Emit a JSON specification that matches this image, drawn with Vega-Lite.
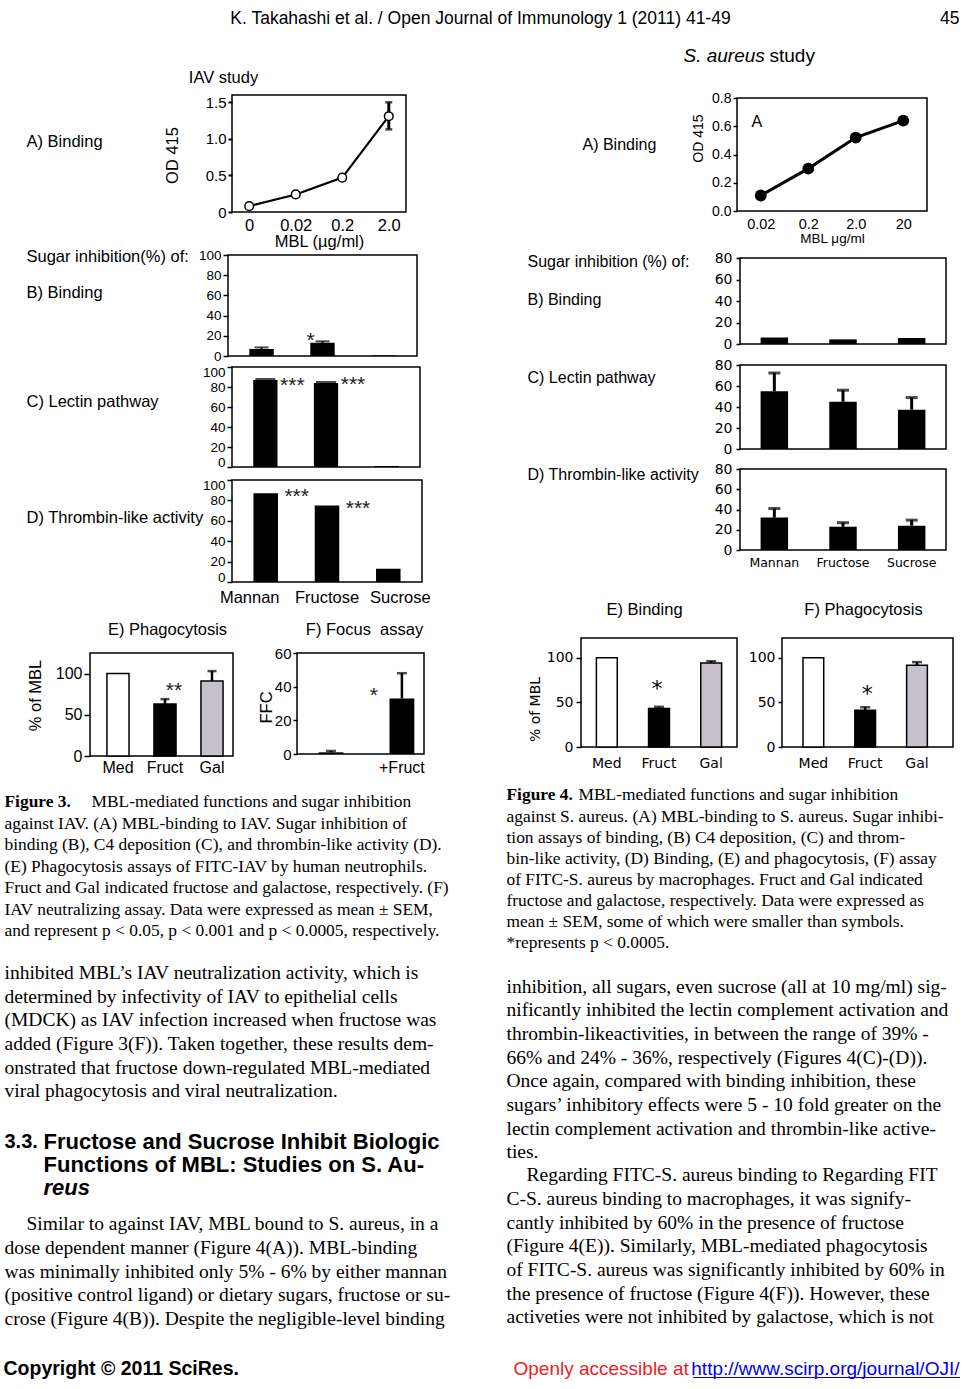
{
"$schema":"https://vega.github.io/schema/vega-lite/v6.json",
"padding":0,
"background":"white",
"bounds":"flush",
"config":{
 "view":{"stroke":null},
 "concat":{"spacing":0},
 "font":"Liberation Sans",
 "axis":{"domain":false,"grid":false,"tickColor":"black","tickWidth":1.5,"tickSize":5,"labelColor":"black","labelFont":"Liberation Sans","titleColor":"black","titleFont":"Liberation Sans","titleFontWeight":"normal","labelPadding":2,"labelOverlap":false}
},
"hconcat":[
{"bounds":"flush","hconcat":[{"width":480,"height":1,"data":{"values":[]},"mark":"point"},{"bounds":"flush","vconcat":[{"width":1,"height":18,"data":{"values":[]},"mark":"point"},
 {"width":1,"height":2,"data":{"values":[{"t":"K. Takahashi et al. / Open Journal of Immunology 1 (2011) 41-49"}]},"mark":{"type":"text","align":"center","baseline":"middle","font":"Liberation Sans","fontSize":17.5},"encoding":{"text":{"field":"t","type":"nominal"}}}]}]},
{"bounds":"flush","hconcat":[{"width":959,"height":1,"data":{"values":[]},"mark":"point"},{"bounds":"flush","vconcat":[{"width":1,"height":18,"data":{"values":[]},"mark":"point"},
 {"width":1,"height":2,"data":{"values":[{"t":"45"}]},"mark":{"type":"text","align":"right","baseline":"middle","font":"Liberation Sans","fontSize":17.5},"encoding":{"text":{"field":"t","type":"nominal"}}}]}]},

{"bounds":"flush","hconcat":[{"width":223,"height":1,"data":{"values":[]},"mark":"point"},{"bounds":"flush","vconcat":[{"width":1,"height":77,"data":{"values":[]},"mark":"point"},
 {"width":1,"height":2,"data":{"values":[{"t":"IAV study"}]},"mark":{"type":"text","align":"center","baseline":"middle","font":"Liberation Sans","fontSize":16.5},"encoding":{"text":{"field":"t","type":"nominal"}}}]}]},
{"bounds":"flush","hconcat":[{"width":26,"height":1,"data":{"values":[]},"mark":"point"},{"bounds":"flush","vconcat":[{"width":1,"height":141,"data":{"values":[]},"mark":"point"},
 {"width":1,"height":2,"data":{"values":[{"t":"A) Binding"}]},"mark":{"type":"text","align":"left","baseline":"middle","font":"Liberation Sans","fontSize":16.5},"encoding":{"text":{"field":"t","type":"nominal"}}}]}]},
{"bounds":"flush","hconcat":[{"width":26,"height":1,"data":{"values":[]},"mark":"point"},{"bounds":"flush","vconcat":[{"width":1,"height":256,"data":{"values":[]},"mark":"point"},
 {"width":1,"height":2,"data":{"values":[{"t":"Sugar inhibition(%) of:"}]},"mark":{"type":"text","align":"left","baseline":"middle","font":"Liberation Sans","fontSize":16.5},"encoding":{"text":{"field":"t","type":"nominal"}}}]}]},
{"bounds":"flush","hconcat":[{"width":26,"height":1,"data":{"values":[]},"mark":"point"},{"bounds":"flush","vconcat":[{"width":1,"height":292,"data":{"values":[]},"mark":"point"},
 {"width":1,"height":2,"data":{"values":[{"t":"B) Binding"}]},"mark":{"type":"text","align":"left","baseline":"middle","font":"Liberation Sans","fontSize":16.5},"encoding":{"text":{"field":"t","type":"nominal"}}}]}]},
{"bounds":"flush","hconcat":[{"width":26,"height":1,"data":{"values":[]},"mark":"point"},{"bounds":"flush","vconcat":[{"width":1,"height":401,"data":{"values":[]},"mark":"point"},
 {"width":1,"height":2,"data":{"values":[{"t":"C) Lectin pathway"}]},"mark":{"type":"text","align":"left","baseline":"middle","font":"Liberation Sans","fontSize":16.5},"encoding":{"text":{"field":"t","type":"nominal"}}}]}]},
{"bounds":"flush","hconcat":[{"width":26,"height":1,"data":{"values":[]},"mark":"point"},{"bounds":"flush","vconcat":[{"width":1,"height":517,"data":{"values":[]},"mark":"point"},
 {"width":1,"height":2,"data":{"values":[{"t":"D) Thrombin-like activity"}]},"mark":{"type":"text","align":"left","baseline":"middle","font":"Liberation Sans","fontSize":16.5},"encoding":{"text":{"field":"t","type":"nominal"}}}]}]},
{"bounds":"flush","hconcat":[{"width":167,"height":1,"data":{"values":[]},"mark":"point"},{"bounds":"flush","vconcat":[{"width":1,"height":629,"data":{"values":[]},"mark":"point"},
 {"width":1,"height":2,"data":{"values":[{"t":"E) Phagocytosis"}]},"mark":{"type":"text","align":"center","baseline":"middle","font":"Liberation Sans","fontSize":16.5},"encoding":{"text":{"field":"t","type":"nominal"}}}]}]},
{"bounds":"flush","hconcat":[{"width":364,"height":1,"data":{"values":[]},"mark":"point"},{"bounds":"flush","vconcat":[{"width":1,"height":629,"data":{"values":[]},"mark":"point"},
 {"width":1,"height":2,"data":{"values":[{"t":"F) Focus\u00a0 assay"}]},"mark":{"type":"text","align":"center","baseline":"middle","font":"Liberation Sans","fontSize":16.5},"encoding":{"text":{"field":"t","type":"nominal"}}}]}]},

{"bounds":"flush","hconcat":[{"width":232,"height":1,"data":{"values":[]},"mark":"point"},{"bounds":"flush","vconcat":[{"width":1,"height":95,"data":{"values":[]},"mark":"point"},
 {"width":174,"height":117,"view":{"stroke":"black","strokeWidth":1.5},
  "data":{"values":[{"mbl":"0","od":0.08},{"mbl":"0.02","od":0.24},{"mbl":"0.2","od":0.47},{"mbl":"2.0","od":1.31,"lo":1.13,"hi":1.5}]},
  "encoding":{"x":{"field":"mbl","type":"ordinal","scale":{"type":"point","padding":0.37,"domain":["0","0.02","0.2","2.0"]},"axis":{"ticks":false,"labelAngle":0,"labelFontSize":16.5,"labelPadding":5,"title":"MBL (µg/ml)","titleFontSize":16.5,"titleX":87,"titleY":29,"titleBaseline":"middle"}},
   "y":{"field":"od","type":"quantitative","scale":{"domain":[0,1.6]},"axis":{"values":[0,0.5,1,1.5],"labelExpr":"datum.value == 0 ? '0' : format(datum.value, '.1f')","labelFontSize":15,"tickSize":4,"tickWidth":2,"title":"OD 415","titleFontSize":16.5,"titleX":-60,"titleY":60,"titleAngle":-90,"titleBaseline":"middle","titleAlign":"center"}}},
  "layer":[
   {"transform":[{"filter":"isValid(datum.hi)"}],"mark":{"type":"rule","color":"black","strokeWidth":3},"encoding":{"y":{"field":"lo","type":"quantitative","scale":{"domain":[0,1.6]},"axis":{"values":[0,0.5,1,1.5],"labelExpr":"datum.value == 0 ? '0' : format(datum.value, '.1f')","labelFontSize":15,"tickSize":4,"tickWidth":2,"title":"OD 415","titleFontSize":16.5,"titleX":-60,"titleY":60,"titleAngle":-90,"titleBaseline":"middle","titleAlign":"center"}},"y2":{"field":"hi"}}},
   {"transform":[{"filter":"isValid(datum.hi)"}],"mark":{"type":"tick","color":"black","size":7,"thickness":2.5},"encoding":{"y":{"field":"hi","type":"quantitative","scale":{"domain":[0,1.6]},"axis":{"values":[0,0.5,1,1.5],"labelExpr":"datum.value == 0 ? '0' : format(datum.value, '.1f')","labelFontSize":15,"tickSize":4,"tickWidth":2,"title":"OD 415","titleFontSize":16.5,"titleX":-60,"titleY":60,"titleAngle":-90,"titleBaseline":"middle","titleAlign":"center"}}}},
   {"transform":[{"filter":"isValid(datum.lo)"}],"mark":{"type":"tick","color":"black","size":7,"thickness":2.5},"encoding":{"y":{"field":"lo","type":"quantitative","scale":{"domain":[0,1.6]},"axis":{"values":[0,0.5,1,1.5],"labelExpr":"datum.value == 0 ? '0' : format(datum.value, '.1f')","labelFontSize":15,"tickSize":4,"tickWidth":2,"title":"OD 415","titleFontSize":16.5,"titleX":-60,"titleY":60,"titleAngle":-90,"titleBaseline":"middle","titleAlign":"center"}}}},
   {"mark":{"type":"line","color":"black","strokeWidth":2.2}},
   {"mark":{"type":"point","filled":true,"fill":"white","stroke":"black","strokeWidth":1.5,"size":75,"opacity":1}}
  ]}]}]},

{"bounds":"flush","hconcat":[{"width":228,"height":1,"data":{"values":[]},"mark":"point"},{"bounds":"flush","vconcat":[{"width":1,"height":255,"data":{"values":[]},"mark":"point"},
 {"width":189,"height":101,"view":{"stroke":"black","strokeWidth":1.5},
  "data":{"values":[{"s":"Mannan","v":7,"hi":8.5},{"s":"Fructose","v":13,"hi":14.5},{"s":"Sucrose","v":0.5}]},
  "encoding":{"x":{"field":"s","type":"nominal","scale":{"domain":["Mannan","Fructose","Sucrose"],"paddingInner":0.6,"paddingOuter":0.35},"axis":null},
   "y":{"field":"v","type":"quantitative","scale":{"domain":[0,100]},"axis":{"values":[0,20,40,60,80,100],"labelFontSize":13.5,"title":null}}},
  "layer":[
   {"transform":[{"filter":"isValid(datum.hi)"}],"mark":{"type":"rule","color":"black","strokeWidth":2},"encoding":{"y2":{"field":"hi"}}},
   {"transform":[{"filter":"isValid(datum.hi)"}],"mark":{"type":"tick","color":"black","size":14,"thickness":2},"encoding":{"y":{"field":"hi","type":"quantitative","scale":{"domain":[0,100]},"axis":{"values":[0,20,40,60,80,100],"labelFontSize":13.5,"title":null}}}},
   {"mark":{"type":"bar","color":"black"}},
   {"data":{"values":[{"s":"Fructose","y":15,"t":"*"}]},"mark":{"type":"text","fontSize":21,"color":"#222222","baseline":"middle","dx":-12},"encoding":{"y":{"field":"y","type":"quantitative","scale":{"domain":[0,100]},"axis":{"values":[0,20,40,60,80,100],"labelFontSize":13.5,"title":null}},"text":{"field":"t","type":"nominal"}}}
  ]}]}]},

{"bounds":"flush","hconcat":[{"width":232,"height":1,"data":{"values":[]},"mark":"point"},{"bounds":"flush","vconcat":[{"width":1,"height":367,"data":{"values":[]},"mark":"point"},
 {"width":188,"height":100,"view":{"stroke":"black","strokeWidth":1.5},
  "data":{"values":[{"s":"Mannan","v":87,"hi":88},{"s":"Fructose","v":84,"hi":85},{"s":"Sucrose","v":1}]},
  "encoding":{"x":{"field":"s","type":"nominal","scale":{"domain":["Mannan","Fructose","Sucrose"],"paddingInner":0.6,"paddingOuter":0.35},"axis":null},
   "y":{"field":"v","type":"quantitative","scale":{"domain":[0,100]},"axis":{"values":[0,20,40,60,80,100],"labelFontSize":13.5,"labelFlush":true,"labelFlushOffset":2,"title":null}}},
  "layer":[
   {"transform":[{"filter":"isValid(datum.hi)"}],"mark":{"type":"tick","color":"black","size":20,"thickness":2},"encoding":{"y":{"field":"hi","type":"quantitative","scale":{"domain":[0,100]},"axis":{"values":[0,20,40,60,80,100],"labelFontSize":13.5,"labelFlush":true,"labelFlushOffset":2,"title":null}}}},
   {"mark":{"type":"bar","color":"black"}},
   {"data":{"values":[{"s":"Mannan","y":81.1,"t":"***"},{"s":"Fructose","y":82,"t":"***"}]},"mark":{"type":"text","fontSize":21,"color":"#222222","baseline":"middle","dx":27},"encoding":{"y":{"field":"y","type":"quantitative","scale":{"domain":[0,100]},"axis":{"values":[0,20,40,60,80,100],"labelFontSize":13.5,"labelFlush":true,"labelFlushOffset":2,"title":null}},"text":{"field":"t","type":"nominal"}}}
  ]}]}]},

{"bounds":"flush","hconcat":[{"width":232,"height":1,"data":{"values":[]},"mark":"point"},{"bounds":"flush","vconcat":[{"width":1,"height":480,"data":{"values":[]},"mark":"point"},
 {"width":190,"height":102,"view":{"stroke":"black","strokeWidth":1.5},
  "data":{"values":[{"s":"Mannan","v":87},{"s":"Fructose","v":75},{"s":"Sucrose","v":13}]},
  "encoding":{"x":{"field":"s","type":"nominal","scale":{"domain":["Mannan","Fructose","Sucrose"],"paddingInner":0.6,"paddingOuter":0.35},"axis":{"ticks":false,"labelAngle":0,"labelFontSize":16.5,"labelPadding":7,"title":null,"labelOffset":{"condition":[{"test":"datum.value == 'Mannan'","value":-16},{"test":"datum.value == 'Sucrose'","value":12}],"value":0}}},
   "y":{"field":"v","type":"quantitative","scale":{"domain":[0,100]},"axis":{"values":[0,20,40,60,80,100],"labelFontSize":13.5,"labelFlush":true,"labelFlushOffset":2,"title":null}}},
  "layer":[
   {"mark":{"type":"bar","color":"black"}},
   {"data":{"values":[{"s":"Mannan","y":83.4,"t":"***"},{"s":"Fructose","y":71.7,"t":"***"}]},"mark":{"type":"text","fontSize":21,"color":"#222222","baseline":"middle","dx":31},"encoding":{"y":{"field":"y","type":"quantitative","scale":{"domain":[0,100]},"axis":{"values":[0,20,40,60,80,100],"labelFontSize":13.5,"labelFlush":true,"labelFlushOffset":2,"title":null}},"text":{"field":"t","type":"nominal"}}}
  ]}]}]},

{"bounds":"flush","hconcat":[{"width":90,"height":1,"data":{"values":[]},"mark":"point"},{"bounds":"flush","vconcat":[{"width":1,"height":653,"data":{"values":[]},"mark":"point"},
 {"width":143,"height":103,"view":{"stroke":"black","strokeWidth":1.5},
  "data":{"values":[{"s":"Med","v":100},{"s":"Fruct","v":63,"hi":69},{"s":"Gal","v":91,"hi":103}]},
  "encoding":{"x":{"field":"s","type":"nominal","scale":{"domain":["Med","Fruct","Gal"],"paddingInner":0.53,"paddingOuter":0.286,"align":0.63},"axis":{"ticks":false,"labelAngle":0,"labelFontSize":16,"labelPadding":3,"title":null}},
   "y":{"field":"v","type":"quantitative","scale":{"domain":[0,125]},"axis":{"values":[0,50,100],"labelFontSize":16,"tickSize":6,"title":"% of MBL","titleFontSize":16.5,"titleX":-55,"titleY":42,"titleAngle":-90,"titleBaseline":"middle","titleAlign":"center"}}},
  "layer":[
   {"transform":[{"filter":"isValid(datum.hi)"}],"mark":{"type":"rule","color":"black","strokeWidth":2.5},"encoding":{"y2":{"field":"hi"}}},
   {"transform":[{"filter":"isValid(datum.hi)"}],"mark":{"type":"tick","color":"black","size":9,"thickness":2.5},"encoding":{"y":{"field":"hi","type":"quantitative","scale":{"domain":[0,125]},"axis":{"values":[0,50,100],"labelFontSize":16,"tickSize":6,"title":"% of MBL","titleFontSize":16.5,"titleX":-55,"titleY":42,"titleAngle":-90,"titleBaseline":"middle","titleAlign":"center"}}}},
   {"mark":{"type":"bar","stroke":"black","strokeWidth":1.5},"encoding":{"color":{"field":"s","type":"nominal","scale":{"domain":["Med","Fruct","Gal"],"range":["white","black","#c6c1ca"]},"legend":null}}},
   {"data":{"values":[{"s":"Fruct","y":78.6,"t":"**"}]},"mark":{"type":"text","fontSize":21,"color":"#222222","baseline":"middle","dx":9},"encoding":{"y":{"field":"y","type":"quantitative","scale":{"domain":[0,125]},"axis":{"values":[0,50,100],"labelFontSize":16,"tickSize":6,"title":"% of MBL","titleFontSize":16.5,"titleX":-55,"titleY":42,"titleAngle":-90,"titleBaseline":"middle","titleAlign":"center"}},"text":{"field":"t","type":"nominal"}}}
  ]}]}]},

{"bounds":"flush","hconcat":[{"width":297,"height":1,"data":{"values":[]},"mark":"point"},{"bounds":"flush","vconcat":[{"width":1,"height":653,"data":{"values":[]},"mark":"point"},
 {"width":127,"height":101,"view":{"stroke":"black","strokeWidth":1.5},
  "data":{"values":[{"s":"Med","v":1,"hi":1.8},{"s":"+Fruct","v":33,"hi":48}]},
  "encoding":{"x":{"field":"s","type":"nominal","scale":{"domain":["Med","+Fruct"],"paddingInner":0.65,"paddingOuter":0.22,"align":0.69},"axis":{"ticks":false,"labelAngle":0,"labelFontSize":16,"labelPadding":5,"title":null,"labelExpr":"datum.value == 'Med' ? '' : datum.label"}},
   "y":{"field":"v","type":"quantitative","scale":{"domain":[0,60]},"axis":{"values":[0,20,40,60],"labelFontSize":15,"tickSize":4,"title":"FFC","titleFontSize":16.5,"titleX":-31,"titleY":54,"titleAngle":-90,"titleBaseline":"middle","titleAlign":"center"}}},
  "layer":[
   {"mark":{"type":"rule","color":"black","strokeWidth":2.5},"encoding":{"y2":{"field":"hi"}}},
   {"mark":{"type":"tick","color":"black","size":10,"thickness":2.5},"encoding":{"y":{"field":"hi","type":"quantitative","scale":{"domain":[0,60]},"axis":{"values":[0,20,40,60],"labelFontSize":15,"tickSize":4,"title":"FFC","titleFontSize":16.5,"titleX":-31,"titleY":54,"titleAngle":-90,"titleBaseline":"middle","titleAlign":"center"}}}},
   {"mark":{"type":"bar","color":"black"}},
   {"data":{"values":[{"s":"+Fruct","y":34.5,"t":"*"}]},"mark":{"type":"text","fontSize":21,"color":"#222222","baseline":"middle","dx":-28},"encoding":{"y":{"field":"y","type":"quantitative","scale":{"domain":[0,60]},"axis":{"values":[0,20,40,60],"labelFontSize":15,"tickSize":4,"title":"FFC","titleFontSize":16.5,"titleX":-31,"titleY":54,"titleAngle":-90,"titleBaseline":"middle","titleAlign":"center"}},"text":{"field":"t","type":"nominal"}}}
  ]}]}]},

{"bounds":"flush","hconcat":[{"width":683,"height":1,"data":{"values":[]},"mark":"point"},{"bounds":"flush","vconcat":[{"width":1,"height":55,"data":{"values":[]},"mark":"point"},
 {"width":1,"height":2,"data":{"values":[{"t":"S. aureus"}]},"mark":{"type":"text","align":"left","baseline":"middle","font":"Liberation Sans","fontSize":19,"fontStyle":"italic"},"encoding":{"text":{"field":"t","type":"nominal"}}}]}]},
{"bounds":"flush","hconcat":[{"width":769,"height":1,"data":{"values":[]},"mark":"point"},{"bounds":"flush","vconcat":[{"width":1,"height":55,"data":{"values":[]},"mark":"point"},
 {"width":1,"height":2,"data":{"values":[{"t":"study"}]},"mark":{"type":"text","align":"left","baseline":"middle","font":"Liberation Sans","fontSize":19},"encoding":{"text":{"field":"t","type":"nominal"}}}]}]},
{"bounds":"flush","hconcat":[{"width":582,"height":1,"data":{"values":[]},"mark":"point"},{"bounds":"flush","vconcat":[{"width":1,"height":144,"data":{"values":[]},"mark":"point"},
 {"width":1,"height":2,"data":{"values":[{"t":"A) Binding"}]},"mark":{"type":"text","align":"left","baseline":"middle","font":"Liberation Sans","fontSize":16},"encoding":{"text":{"field":"t","type":"nominal"}}}]}]},
{"bounds":"flush","hconcat":[{"width":527,"height":1,"data":{"values":[]},"mark":"point"},{"bounds":"flush","vconcat":[{"width":1,"height":261,"data":{"values":[]},"mark":"point"},
 {"width":1,"height":2,"data":{"values":[{"t":"Sugar inhibition (%) of:"}]},"mark":{"type":"text","align":"left","baseline":"middle","font":"Liberation Sans","fontSize":16},"encoding":{"text":{"field":"t","type":"nominal"}}}]}]},
{"bounds":"flush","hconcat":[{"width":527,"height":1,"data":{"values":[]},"mark":"point"},{"bounds":"flush","vconcat":[{"width":1,"height":299,"data":{"values":[]},"mark":"point"},
 {"width":1,"height":2,"data":{"values":[{"t":"B) Binding"}]},"mark":{"type":"text","align":"left","baseline":"middle","font":"Liberation Sans","fontSize":16},"encoding":{"text":{"field":"t","type":"nominal"}}}]}]},
{"bounds":"flush","hconcat":[{"width":527,"height":1,"data":{"values":[]},"mark":"point"},{"bounds":"flush","vconcat":[{"width":1,"height":377,"data":{"values":[]},"mark":"point"},
 {"width":1,"height":2,"data":{"values":[{"t":"C) Lectin pathway"}]},"mark":{"type":"text","align":"left","baseline":"middle","font":"Liberation Sans","fontSize":16},"encoding":{"text":{"field":"t","type":"nominal"}}}]}]},
{"bounds":"flush","hconcat":[{"width":527,"height":1,"data":{"values":[]},"mark":"point"},{"bounds":"flush","vconcat":[{"width":1,"height":474,"data":{"values":[]},"mark":"point"},
 {"width":1,"height":2,"data":{"values":[{"t":"D) Thrombin-like activity"}]},"mark":{"type":"text","align":"left","baseline":"middle","font":"Liberation Sans","fontSize":16},"encoding":{"text":{"field":"t","type":"nominal"}}}]}]},
{"bounds":"flush","hconcat":[{"width":644,"height":1,"data":{"values":[]},"mark":"point"},{"bounds":"flush","vconcat":[{"width":1,"height":609,"data":{"values":[]},"mark":"point"},
 {"width":1,"height":2,"data":{"values":[{"t":"E) Binding"}]},"mark":{"type":"text","align":"center","baseline":"middle","font":"Liberation Sans","fontSize":16.5},"encoding":{"text":{"field":"t","type":"nominal"}}}]}]},
{"bounds":"flush","hconcat":[{"width":863,"height":1,"data":{"values":[]},"mark":"point"},{"bounds":"flush","vconcat":[{"width":1,"height":609,"data":{"values":[]},"mark":"point"},
 {"width":1,"height":2,"data":{"values":[{"t":"F) Phagocytosis"}]},"mark":{"type":"text","align":"center","baseline":"middle","font":"Liberation Sans","fontSize":16.5},"encoding":{"text":{"field":"t","type":"nominal"}}}]}]},

{"bounds":"flush","hconcat":[{"width":737,"height":1,"data":{"values":[]},"mark":"point"},{"bounds":"flush","vconcat":[{"width":1,"height":98,"data":{"values":[]},"mark":"point"},
 {"width":190,"height":113,"view":{"stroke":"black","strokeWidth":1.5},
  "data":{"values":[{"mbl":"0.02","od":0.11},{"mbl":"0.2","od":0.3},{"mbl":"2.0","od":0.52},{"mbl":"20","od":0.64}]},
  "encoding":{
   "x":{"field":"mbl","type":"ordinal","scale":{"type":"point","padding":0.5,"domain":["0.02","0.2","2.0","20"]},"axis":{"ticks":false,"labelAngle":0,"labelFontSize":14.5,"labelPadding":6,"title":"MBL μg/ml","titleFontSize":13.5,"titleX":95,"titleY":27,"titleBaseline":"middle"}},
   "y":{"field":"od","type":"quantitative","scale":{"domain":[0,0.8]},"axis":{"values":[0,0.2,0.4,0.6,0.8],"format":".1f","labelFontSize":14,"tickSize":4,"title":"OD 415","titleFontSize":14,"titleX":-39,"titleY":40,"titleAngle":-90,"titleBaseline":"middle","titleAlign":"center"}}},
  "layer":[
   {"mark":{"type":"line","color":"black","strokeWidth":3}},
   {"mark":{"type":"point","filled":true,"color":"black","size":140,"opacity":1}},
   {"data":{"values":[{"mbl":"0.02","od":0.63,"t":"A"}]},"mark":{"type":"text","fontSize":16,"baseline":"middle","dx":-4},"encoding":{"text":{"field":"t","type":"nominal"}}}
  ]}]}]},

{"bounds":"flush","hconcat":[{"width":740,"height":1,"data":{"values":[]},"mark":"point"},{"bounds":"flush","vconcat":[{"width":1,"height":258,"data":{"values":[]},"mark":"point"},
 {"width":206,"height":86,"view":{"stroke":"black","strokeWidth":1.5},
  "data":{"values":[{"s":"Mannan","v":6},{"s":"Fructose","v":4.3},{"s":"Sucrose","v":5.5}]},
  "mark":{"type":"bar","color":"black"},
  "encoding":{"x":{"field":"s","type":"nominal","scale":{"domain":["Mannan","Fructose","Sucrose"],"paddingInner":0.6,"paddingOuter":0.3},"axis":null},
   "y":{"field":"v","type":"quantitative","scale":{"domain":[0,80]},"axis":{"values":[0,20,40,60,80],"labelFont":"DejaVu Sans","labelFontSize":14,"tickSize":4,"labelPadding":4,"title":null}}}}]}]},

{"bounds":"flush","hconcat":[{"width":740,"height":1,"data":{"values":[]},"mark":"point"},{"bounds":"flush","vconcat":[{"width":1,"height":365,"data":{"values":[]},"mark":"point"},
 {"width":206,"height":84,"view":{"stroke":"black","strokeWidth":1.5},
  "data":{"values":[{"s":"Mannan","v":55,"hi":72.5},{"s":"Fructose","v":45,"hi":56},{"s":"Sucrose","v":37.5,"hi":49}]},
  "encoding":{"x":{"field":"s","type":"nominal","scale":{"domain":["Mannan","Fructose","Sucrose"],"paddingInner":0.6,"paddingOuter":0.3},"axis":null},
   "y":{"field":"v","type":"quantitative","scale":{"domain":[0,80]},"axis":{"values":[0,20,40,60,80],"labelFont":"DejaVu Sans","labelFontSize":14,"tickSize":4,"labelPadding":4,"title":null}}},
  "layer":[
   {"mark":{"type":"rule","color":"black","strokeWidth":3},"encoding":{"y2":{"field":"hi"}}},
   {"mark":{"type":"tick","color":"black","size":12,"thickness":3},"encoding":{"y":{"field":"hi","type":"quantitative","scale":{"domain":[0,80]},"axis":{"values":[0,20,40,60,80],"labelFont":"DejaVu Sans","labelFontSize":14,"tickSize":4,"labelPadding":4,"title":null}}}},
   {"mark":{"type":"bar","color":"black"}}
  ]}]}]},

{"bounds":"flush","hconcat":[{"width":740,"height":1,"data":{"values":[]},"mark":"point"},{"bounds":"flush","vconcat":[{"width":1,"height":469,"data":{"values":[]},"mark":"point"},
 {"width":206,"height":81,"view":{"stroke":"black","strokeWidth":1.5},
  "data":{"values":[{"s":"Mannan","v":32,"hi":41},{"s":"Fructose","v":23,"hi":27},{"s":"Sucrose","v":24,"hi":29.5}]},
  "encoding":{"x":{"field":"s","type":"nominal","scale":{"domain":["Mannan","Fructose","Sucrose"],"paddingInner":0.6,"paddingOuter":0.3},"axis":{"ticks":false,"labelAngle":0,"labelFont":"DejaVu Sans","labelFontSize":12.5,"labelPadding":6,"title":null}},
   "y":{"field":"v","type":"quantitative","scale":{"domain":[0,80]},"axis":{"values":[0,20,40,60,80],"labelFont":"DejaVu Sans","labelFontSize":14,"tickSize":4,"labelPadding":4,"title":null}}},
  "layer":[
   {"mark":{"type":"rule","color":"black","strokeWidth":3},"encoding":{"y2":{"field":"hi"}}},
   {"mark":{"type":"tick","color":"black","size":12,"thickness":3},"encoding":{"y":{"field":"hi","type":"quantitative","scale":{"domain":[0,80]},"axis":{"values":[0,20,40,60,80],"labelFont":"DejaVu Sans","labelFontSize":14,"tickSize":4,"labelPadding":4,"title":null}}}},
   {"mark":{"type":"bar","color":"black"}}
  ]}]}]},

{"bounds":"flush","hconcat":[{"width":581,"height":1,"data":{"values":[]},"mark":"point"},{"bounds":"flush","vconcat":[{"width":1,"height":638,"data":{"values":[]},"mark":"point"},
 {"width":156,"height":109,"view":{"stroke":"black","strokeWidth":1.5},
  "data":{"values":[{"s":"Med","v":100},{"s":"Fruct","v":43,"hi":45},{"s":"Gal","v":94,"hi":96}]},
  "encoding":{"x":{"field":"s","type":"nominal","scale":{"domain":["Med","Fruct","Gal"],"paddingInner":0.6,"paddingOuter":0.295},"axis":{"ticks":false,"labelAngle":0,"labelFont":"DejaVu Sans","labelFontSize":14,"labelPadding":9,"title":null}},
   "y":{"field":"v","type":"quantitative","scale":{"domain":[0,122]},"axis":{"values":[0,50,100],"labelFont":"DejaVu Sans","labelFontSize":14,"tickSize":5,"labelPadding":3,"title":"% of MBL","titleFont":"DejaVu Sans","titleFontSize":14,"titleX":-46,"titleY":71,"titleAngle":-90,"titleBaseline":"middle","titleAlign":"center"}}},
  "layer":[
   {"transform":[{"filter":"isValid(datum.hi)"}],"mark":{"type":"rule","color":"black","strokeWidth":2.5},"encoding":{"y2":{"field":"hi"}}},
   {"transform":[{"filter":"isValid(datum.hi)"}],"mark":{"type":"tick","color":"black","size":10,"thickness":2.5},"encoding":{"y":{"field":"hi","type":"quantitative","scale":{"domain":[0,122]},"axis":{"values":[0,50,100],"labelFont":"DejaVu Sans","labelFontSize":14,"tickSize":5,"labelPadding":3,"title":"% of MBL","titleFont":"DejaVu Sans","titleFontSize":14,"titleX":-46,"titleY":71,"titleAngle":-90,"titleBaseline":"middle","titleAlign":"center"}}}},
   {"mark":{"type":"bar","stroke":"black","strokeWidth":1.5},"encoding":{"color":{"field":"s","type":"nominal","scale":{"domain":["Med","Fruct","Gal"],"range":["white","black","#c0c0c0"]},"legend":null}}},
   {"data":{"values":[{"s":"Fruct","y":64.5,"t":"*"}]},"mark":{"type":"text","font":"DejaVu Sans","fontSize":22,"baseline":"middle","dx":-2},"encoding":{"y":{"field":"y","type":"quantitative","scale":{"domain":[0,122]},"axis":{"values":[0,50,100],"labelFont":"DejaVu Sans","labelFontSize":14,"tickSize":5,"labelPadding":3,"title":"% of MBL","titleFont":"DejaVu Sans","titleFontSize":14,"titleX":-46,"titleY":71,"titleAngle":-90,"titleBaseline":"middle","titleAlign":"center"}},"text":{"field":"t","type":"nominal"}}}
  ]}]}]},

{"bounds":"flush","hconcat":[{"width":782,"height":1,"data":{"values":[]},"mark":"point"},{"bounds":"flush","vconcat":[{"width":1,"height":638,"data":{"values":[]},"mark":"point"},
 {"width":171,"height":109,"view":{"stroke":"black","strokeWidth":1.5},
  "data":{"values":[{"s":"Med","v":100},{"s":"Fruct","v":41,"hi":44.5},{"s":"Gal","v":91.5,"hi":95}]},
  "encoding":{"x":{"field":"s","type":"nominal","scale":{"domain":["Med","Fruct","Gal"],"paddingInner":0.6,"paddingOuter":0.45,"align":0.45},"axis":{"ticks":false,"labelAngle":0,"labelFont":"DejaVu Sans","labelFontSize":14,"labelPadding":9,"title":null}},
   "y":{"field":"v","type":"quantitative","scale":{"domain":[0,122]},"axis":{"values":[0,50,100],"labelFont":"DejaVu Sans","labelFontSize":14,"tickSize":4,"labelPadding":3,"title":null}}},
  "layer":[
   {"transform":[{"filter":"isValid(datum.hi)"}],"mark":{"type":"rule","color":"black","strokeWidth":2.5},"encoding":{"y2":{"field":"hi"}}},
   {"transform":[{"filter":"isValid(datum.hi)"}],"mark":{"type":"tick","color":"black","size":10,"thickness":2.5},"encoding":{"y":{"field":"hi","type":"quantitative","scale":{"domain":[0,122]},"axis":{"values":[0,50,100],"labelFont":"DejaVu Sans","labelFontSize":14,"tickSize":4,"labelPadding":3,"title":null}}}},
   {"mark":{"type":"bar","stroke":"black","strokeWidth":1.5},"encoding":{"color":{"field":"s","type":"nominal","scale":{"domain":["Med","Fruct","Gal"],"range":["white","black","#c0c0c0"]},"legend":null}}},
   {"data":{"values":[{"s":"Fruct","y":58.9,"t":"*"}]},"mark":{"type":"text","font":"DejaVu Sans","fontSize":22,"baseline":"middle","dx":2},"encoding":{"y":{"field":"y","type":"quantitative","scale":{"domain":[0,122]},"axis":{"values":[0,50,100],"labelFont":"DejaVu Sans","labelFontSize":14,"tickSize":4,"labelPadding":3,"title":null}},"text":{"field":"t","type":"nominal"}}}
  ]}]}]},

{"bounds":"flush","hconcat":[{"width":4,"height":1,"data":{"values":[]},"mark":"point"},{"bounds":"flush","vconcat":[{"width":1,"height":801,"data":{"values":[]},"mark":"point"},
 {"width":1,"height":2,"data":{"values":[{"t":"Figure 3."}]},"mark":{"type":"text","align":"left","baseline":"middle","font":"Liberation Serif","fontSize":17.4,"fontWeight":"bold"},"encoding":{"text":{"field":"t","type":"nominal"}}}]}]},
{"bounds":"flush","hconcat":[{"width":91,"height":1,"data":{"values":[]},"mark":"point"},{"bounds":"flush","vconcat":[{"width":1,"height":801,"data":{"values":[]},"mark":"point"},
 {"width":1,"height":2,"data":{"values":[{"t":"MBL-mediated functions and sugar inhibition"}]},"mark":{"type":"text","align":"left","baseline":"middle","font":"Liberation Serif","fontSize":17.4},"encoding":{"text":{"field":"t","type":"nominal"}}}]}]},
{"bounds":"flush","hconcat":[{"width":4,"height":1,"data":{"values":[]},"mark":"point"},{"bounds":"flush","vconcat":[{"width":1,"height":813,"data":{"values":[]},"mark":"point"},
 {"width":1,"height":129,"data":{"values":[
  {"i":0,"t":"against IAV. (A) MBL-binding to IAV. Sugar inhibition of"},
  {"i":1,"t":"binding (B), C4 deposition (C), and thrombin-like activity (D)."},
  {"i":2,"t":"(E) Phagocytosis assays of FITC-IAV by human neutrophils."},
  {"i":3,"t":"Fruct and Gal indicated fructose and galactose, respectively. (F)"},
  {"i":4,"t":"IAV neutralizing assay. Data were expressed as mean ± SEM,"},
  {"i":5,"t":"and represent p < 0.05, p < 0.001 and p < 0.0005, respectively."}]},
  "mark":{"type":"text","align":"left","baseline":"middle","font":"Liberation Serif","fontSize":17.4},
  "encoding":{"y":{"field":"i","type":"ordinal","axis":null,"scale":{"padding":0.5}},"text":{"field":"t","type":"nominal"}}}]}]},

{"bounds":"flush","hconcat":[{"width":506,"height":1,"data":{"values":[]},"mark":"point"},{"bounds":"flush","vconcat":[{"width":1,"height":794,"data":{"values":[]},"mark":"point"},
 {"width":1,"height":2,"data":{"values":[{"t":"Figure 4."}]},"mark":{"type":"text","align":"left","baseline":"middle","font":"Liberation Serif","fontSize":17.4,"fontWeight":"bold"},"encoding":{"text":{"field":"t","type":"nominal"}}}]}]},
{"bounds":"flush","hconcat":[{"width":578,"height":1,"data":{"values":[]},"mark":"point"},{"bounds":"flush","vconcat":[{"width":1,"height":794,"data":{"values":[]},"mark":"point"},
 {"width":1,"height":2,"data":{"values":[{"t":"MBL-mediated functions and sugar inhibition"}]},"mark":{"type":"text","align":"left","baseline":"middle","font":"Liberation Serif","fontSize":17.4},"encoding":{"text":{"field":"t","type":"nominal"}}}]}]},
{"bounds":"flush","hconcat":[{"width":506,"height":1,"data":{"values":[]},"mark":"point"},{"bounds":"flush","vconcat":[{"width":1,"height":806,"data":{"values":[]},"mark":"point"},
 {"width":1,"height":147,"data":{"values":[
  {"i":0,"t":"against S. aureus. (A) MBL-binding to S. aureus. Sugar inhibi-"},
  {"i":1,"t":"tion assays of binding, (B) C4 deposition, (C) and throm-"},
  {"i":2,"t":"bin-like activity, (D) Binding, (E) and phagocytosis, (F) assay"},
  {"i":3,"t":"of FITC-S. aureus by macrophages. Fruct and Gal indicated"},
  {"i":4,"t":"fructose and galactose, respectively. Data were expressed as"},
  {"i":5,"t":"mean ± SEM, some of which were smaller than symbols."},
  {"i":6,"t":"*represents p < 0.0005."}]},
  "mark":{"type":"text","align":"left","baseline":"middle","font":"Liberation Serif","fontSize":17.4},
  "encoding":{"y":{"field":"i","type":"ordinal","axis":null,"scale":{"padding":0.5}},"text":{"field":"t","type":"nominal"}}}]}]},

{"bounds":"flush","hconcat":[{"width":4,"height":1,"data":{"values":[]},"mark":"point"},{"bounds":"flush","vconcat":[{"width":1,"height":961,"data":{"values":[]},"mark":"point"},
 {"width":1,"height":142,"data":{"values":[
  {"i":0,"t":"inhibited MBL’s IAV neutralization activity, which is"},
  {"i":1,"t":"determined by infectivity of IAV to epithelial cells"},
  {"i":2,"t":"(MDCK) as IAV infection increased when fructose was"},
  {"i":3,"t":"added (Figure 3(F)). Taken together, these results dem-"},
  {"i":4,"t":"onstrated that fructose down-regulated MBL-mediated"},
  {"i":5,"t":"viral phagocytosis and viral neutralization."}]},
  "mark":{"type":"text","align":"left","baseline":"middle","font":"Liberation Serif","fontSize":19.5},
  "encoding":{"y":{"field":"i","type":"ordinal","axis":null,"scale":{"padding":0.5}},"text":{"field":"t","type":"nominal"}}}]}]},
{"bounds":"flush","hconcat":[{"width":4,"height":1,"data":{"values":[]},"mark":"point"},{"bounds":"flush","vconcat":[{"width":1,"height":1141,"data":{"values":[]},"mark":"point"},
 {"width":1,"height":2,"data":{"values":[{"t":"3.3."}]},"mark":{"type":"text","align":"left","baseline":"middle","font":"Liberation Sans","fontSize":20,"fontWeight":"bold"},"encoding":{"text":{"field":"t","type":"nominal"}}}]}]},
{"bounds":"flush","hconcat":[{"width":43,"height":1,"data":{"values":[]},"mark":"point"},{"bounds":"flush","vconcat":[{"width":1,"height":1130,"data":{"values":[]},"mark":"point"},
 {"width":1,"height":46,"data":{"values":[
  {"i":0,"t":"Fructose and Sucrose Inhibit Biologic"},
  {"i":1,"t":"Functions of MBL: Studies on S. Au-"}]},
  "mark":{"type":"text","align":"left","baseline":"middle","font":"Liberation Sans","fontSize":22,"fontWeight":"bold"},
  "encoding":{"y":{"field":"i","type":"ordinal","axis":null,"scale":{"padding":0.5}},"text":{"field":"t","type":"nominal"}}}]}]},
{"bounds":"flush","hconcat":[{"width":43,"height":1,"data":{"values":[]},"mark":"point"},{"bounds":"flush","vconcat":[{"width":1,"height":1187,"data":{"values":[]},"mark":"point"},
 {"width":1,"height":2,"data":{"values":[{"t":"reus"}]},"mark":{"type":"text","align":"left","baseline":"middle","font":"Liberation Sans","fontSize":22,"fontWeight":"bold","fontStyle":"italic"},"encoding":{"text":{"field":"t","type":"nominal"}}}]}]},
{"bounds":"flush","hconcat":[{"width":26,"height":1,"data":{"values":[]},"mark":"point"},{"bounds":"flush","vconcat":[{"width":1,"height":1223,"data":{"values":[]},"mark":"point"},
 {"width":1,"height":2,"data":{"values":[{"t":"Similar to against IAV, MBL bound to S. aureus, in a"}]},"mark":{"type":"text","align":"left","baseline":"middle","font":"Liberation Serif","fontSize":19.5},"encoding":{"text":{"field":"t","type":"nominal"}}}]}]},
{"bounds":"flush","hconcat":[{"width":4,"height":1,"data":{"values":[]},"mark":"point"},{"bounds":"flush","vconcat":[{"width":1,"height":1236,"data":{"values":[]},"mark":"point"},
 {"width":1,"height":95,"data":{"values":[
  {"i":0,"t":"dose dependent manner (Figure 4(A)). MBL-binding"},
  {"i":1,"t":"was minimally inhibited only 5% - 6% by either mannan"},
  {"i":2,"t":"(positive control ligand) or dietary sugars, fructose or su-"},
  {"i":3,"t":"crose (Figure 4(B)). Despite the negligible-level binding"}]},
  "mark":{"type":"text","align":"left","baseline":"middle","font":"Liberation Serif","fontSize":19.5},
  "encoding":{"y":{"field":"i","type":"ordinal","axis":null,"scale":{"padding":0.5}},"text":{"field":"t","type":"nominal"}}}]}]},

{"bounds":"flush","hconcat":[{"width":506,"height":1,"data":{"values":[]},"mark":"point"},{"bounds":"flush","vconcat":[{"width":1,"height":975,"data":{"values":[]},"mark":"point"},
 {"width":1,"height":189,"data":{"values":[
  {"i":0,"t":"inhibition, all sugars, even sucrose (all at 10 mg/ml) sig-"},
  {"i":1,"t":"nificantly inhibited the lectin complement activation and"},
  {"i":2,"t":"thrombin-likeactivities, in between the range of 39% -"},
  {"i":3,"t":"66% and 24% - 36%, respectively (Figures 4(C)-(D))."},
  {"i":4,"t":"Once again, compared with binding inhibition, these"},
  {"i":5,"t":"sugars’ inhibitory effects were 5 - 10 fold greater on the"},
  {"i":6,"t":"lectin complement activation and thrombin-like active-"},
  {"i":7,"t":"ties."}]},
  "mark":{"type":"text","align":"left","baseline":"middle","font":"Liberation Serif","fontSize":19.5},
  "encoding":{"y":{"field":"i","type":"ordinal","axis":null,"scale":{"padding":0.5}},"text":{"field":"t","type":"nominal"}}}]}]},
{"bounds":"flush","hconcat":[{"width":526,"height":1,"data":{"values":[]},"mark":"point"},{"bounds":"flush","vconcat":[{"width":1,"height":1174,"data":{"values":[]},"mark":"point"},
 {"width":1,"height":2,"data":{"values":[{"t":"Regarding FITC-S. aureus binding to Regarding FIT"}]},"mark":{"type":"text","align":"left","baseline":"middle","font":"Liberation Serif","fontSize":19.5},"encoding":{"text":{"field":"t","type":"nominal"}}}]}]},
{"bounds":"flush","hconcat":[{"width":506,"height":1,"data":{"values":[]},"mark":"point"},{"bounds":"flush","vconcat":[{"width":1,"height":1187,"data":{"values":[]},"mark":"point"},
 {"width":1,"height":142,"data":{"values":[
  {"i":0,"t":"C-S. aureus binding to macrophages, it was signify-"},
  {"i":1,"t":"cantly inhibited by 60% in the presence of fructose"},
  {"i":2,"t":"(Figure 4(E)). Similarly, MBL-mediated phagocytosis"},
  {"i":3,"t":"of FITC-S. aureus was significantly inhibited by 60% in"},
  {"i":4,"t":"the presence of fructose (Figure 4(F)). However, these"},
  {"i":5,"t":"activeties were not inhibited by galactose, which is not"}]},
  "mark":{"type":"text","align":"left","baseline":"middle","font":"Liberation Serif","fontSize":19.5},
  "encoding":{"y":{"field":"i","type":"ordinal","axis":null,"scale":{"padding":0.5}},"text":{"field":"t","type":"nominal"}}}]}]},

{"bounds":"flush","hconcat":[{"width":3,"height":1,"data":{"values":[]},"mark":"point"},{"bounds":"flush","vconcat":[{"width":1,"height":1368,"data":{"values":[]},"mark":"point"},
 {"width":1,"height":2,"data":{"values":[{"t":"Copyright © 2011 SciRes."}]},"mark":{"type":"text","align":"left","baseline":"middle","font":"Liberation Sans","fontSize":19.5,"fontWeight":"bold"},"encoding":{"text":{"field":"t","type":"nominal"}}}]}]},
{"bounds":"flush","hconcat":[{"width":513,"height":1,"data":{"values":[]},"mark":"point"},{"bounds":"flush","vconcat":[{"width":1,"height":1368,"data":{"values":[]},"mark":"point"},
 {"width":1,"height":2,"data":{"values":[{"t":"Openly accessible at"}]},"mark":{"type":"text","align":"left","baseline":"middle","font":"Liberation Sans","fontSize":19,"color":"#ee1c24"},"encoding":{"text":{"field":"t","type":"nominal"}}}]}]},
{"bounds":"flush","hconcat":[{"width":959,"height":1,"data":{"values":[]},"mark":"point"},{"bounds":"flush","vconcat":[{"width":1,"height":1368,"data":{"values":[]},"mark":"point"},
 {"width":1,"height":2,"data":{"values":[{"t":"http://www.scirp.org/journal/OJI/"}]},"mark":{"type":"text","align":"right","baseline":"middle","font":"Liberation Sans","fontSize":19,"color":"#0000ee"},"encoding":{"text":{"field":"t","type":"nominal"}}}]}]},
{"bounds":"flush","hconcat":[{"width":693,"height":1,"data":{"values":[]},"mark":"point"},{"bounds":"flush","vconcat":[{"width":1,"height":1377,"data":{"values":[]},"mark":"point"},
 {"width":267,"height":1,"view":{"fill":"#0000ee","stroke":null},"data":{"values":[]},"mark":"point"}]}]}
]
}
